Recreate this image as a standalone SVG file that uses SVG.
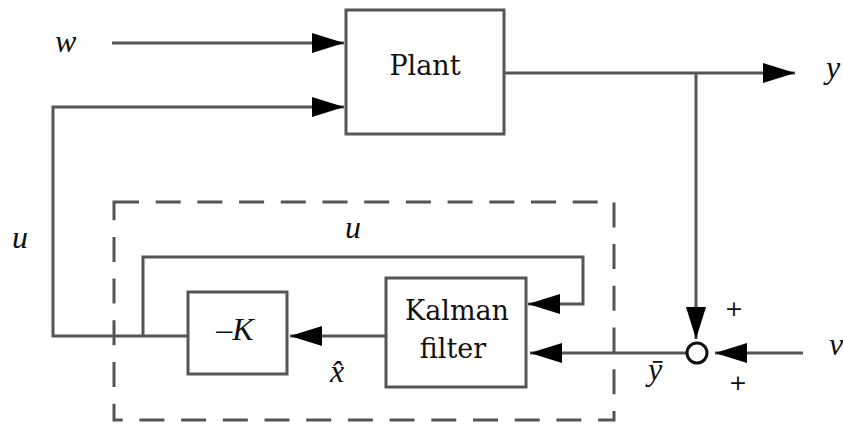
<svg xmlns="http://www.w3.org/2000/svg" width="843" height="426" viewBox="0 0 843 426">
<style>
.ln{fill:none;stroke:#555;stroke-width:3}
.box{fill:#fff;stroke:#555;stroke-width:3}
.dash{fill:none;stroke:#555;stroke-width:3;stroke-dasharray:25 16.7}
.rm{font-family:"DejaVu Serif","Liberation Serif",serif;font-size:27px;fill:#111}
.it{font-family:"Liberation Serif","DejaVu Serif",serif;font-style:italic;font-size:32px;fill:#111}
.pl{font-family:"DejaVu Sans","Liberation Sans",sans-serif;font-size:22px;fill:#111}
</style>
<defs>
<marker id="ah" markerUnits="userSpaceOnUse" markerWidth="32" markerHeight="20" refX="32" refY="10" orient="auto" viewBox="0 0 32 20">
<path d="M0,0 L32,10 L0,20 z" fill="#000"/>
</marker>
</defs>
<rect class="dash" x="114" y="202" width="500" height="218"/>
<g id="connectors">
<line class="ln" x1="112" y1="43" x2="344" y2="43" marker-end="url(#ah)"/>
<polyline class="ln" points="188,336 53,336 53,107 344,107" marker-end="url(#ah)"/>
<polyline class="ln" points="143,336 143,257 583,257 583,304 528,304" marker-end="url(#ah)"/>
<line class="ln" x1="386" y1="336" x2="290" y2="336" marker-end="url(#ah)"/>
<line class="ln" x1="504" y1="73" x2="795" y2="73" marker-end="url(#ah)"/>
<line class="ln" x1="696" y1="73" x2="696" y2="339" marker-end="url(#ah)"/>
<line class="ln" x1="803" y1="353" x2="715" y2="353" marker-end="url(#ah)"/>
<line class="ln" x1="686" y1="353" x2="530" y2="353" marker-end="url(#ah)"/>
</g>
<g id="plant">
<rect class="box" x="346" y="10" width="158" height="124"/>
<text class="rm" x="425" y="75" text-anchor="middle">Plant</text>
</g>
<g id="gain">
<rect class="box" x="188" y="292" width="99" height="82"/>
<text class="it" x="235" y="340" text-anchor="middle"><tspan font-style="normal">–</tspan>K</text>
</g>
<g id="kalman">
<rect class="box" x="386" y="278" width="140" height="109"/>
<text class="rm" x="457" y="320" text-anchor="middle">Kalman</text>
<text class="rm" x="453" y="358" text-anchor="middle">filter</text>
</g>
<g id="sum">
<circle cx="697" cy="353" r="10" fill="#fff" stroke="#111" stroke-width="3"/>
</g>
<g id="labels">
<text class="it" x="55" y="52">w</text>
<text class="it" x="826" y="78">y</text>
<text class="it" x="12" y="248">u</text>
<text class="it" x="345" y="238">u</text>
<text class="it" x="330" y="382">x̂</text>
<text class="it" x="648" y="380">ȳ</text>
<text class="it" x="829" y="355">v</text>
<text class="pl" x="734" y="316" text-anchor="middle">+</text>
<text class="pl" x="738" y="390" text-anchor="middle">+</text>
</g>
</svg>
